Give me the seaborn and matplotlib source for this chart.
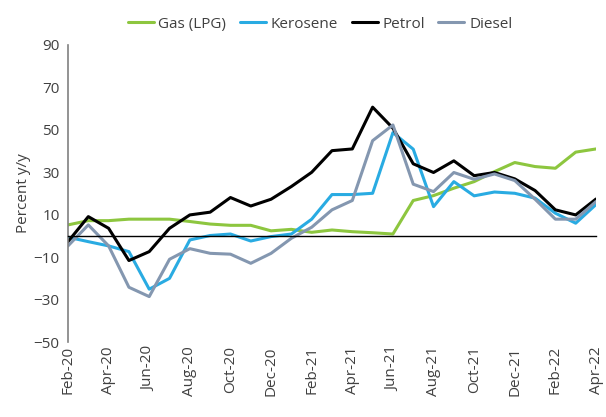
import matplotlib
matplotlib.use("Agg")
import matplotlib.pyplot as plt
import seaborn as sns
import pandas as pd
import numpy as np

months = ["Feb-20","Mar-20","Apr-20","May-20","Jun-20","Jul-20","Aug-20","Sep-20","Oct-20","Nov-20",
          "Dec-20","Jan-21","Feb-21","Mar-21","Apr-21","May-21","Jun-21","Jul-21","Aug-21","Sep-21",
          "Oct-21","Nov-21","Dec-21","Jan-22","Feb-22","Mar-22","Apr-22"]
gas = [5.2, 7.2, 7.2, 7.9, 7.9, 7.9, 6.8, 5.6, 5.0, 5.0, 2.4, 3.1, 1.7, 2.8, 2.0, 1.5, 0.9,
       16.7, 19.0, 22.5, 25.6, 30.3, 34.6, 32.7, 31.9, 39.5, 41.0]
kerosene = [-0.6, -2.7, -4.7, -7.4, -25.1, -20.0, -1.9, 0.2, 0.9, -2.4, -0.3, 0.9, 7.9, 19.5,
            19.5, 20.1, 48.7, 40.9, 13.8, 25.6, 18.9, 20.7, 20.1, 17.8, 10.7, 6.0, 14.8]
petrol = [-2.7, 9.1, 3.6, -11.6, -7.4, 3.6, 9.9, 11.2, 18.1, 14.1, 17.3, 23.3, 30.0, 40.2,
          41.0, 60.7, 50.8, 34.0, 29.9, 35.4, 28.4, 29.9, 26.9, 21.4, 12.3, 9.9, 17.4]
diesel = [-4.7, 5.2, -4.7, -24.2, -28.6, -11.0, -6.0, -8.2, -8.6, -12.9, -8.2, -1.1, 4.1, 12.3,
          16.7, 44.9, 52.3, 24.4, 20.9, 29.9, 26.7, 29.2, 26.1, 17.3, 7.9, 7.9, 16.2]
series_names = ["Gas (LPG)", "Kerosene", "Petrol", "Diesel"]
colors = ["#8DC63F", "#29ABE2", "#000000", "#8497B0"]
yticks = [90, 70, 50, 30, 10, -10, -30, -50]

sns.set_style("white")
plt.rcParams["font.family"] = ["Open Sans", "DejaVu Sans"]
text_color = "#404040"

df = pd.DataFrame({
    "idx": list(range(len(months))) * 4,
    "value": gas + kerosene + petrol + diesel,
    "series": sum([[n] * len(months) for n in series_names], []),
})

fig = plt.figure(figsize=(6.06, 4.17), dpi=100)
ax = fig.add_axes([68/606, 1 - 342/417, (596-68)/606, (342-45)/417])
sns.lineplot(data=df, x="idx", y="value", hue="series", hue_order=series_names,
             palette=colors, linewidth=2.2, ax=ax, legend=True, sort=False)

ax.set_ylim(-50, 90)
ax.set_xlim(0, len(months) - 1)
ax.set_yticks(yticks)
ax.tick_params(axis="y", direction="out", length=4, width=1, color="#808080",
               labelsize=11, labelcolor=text_color, pad=2)
for s in ["top", "right"]:
    ax.spines[s].set_visible(False)
ax.spines["left"].set_color("#808080")
ax.spines["left"].set_linewidth(1.2)
ax.spines["bottom"].set_position(("data", 0))
ax.spines["bottom"].set_color("#000000")
ax.spines["bottom"].set_linewidth(1.0)
tick_pos = list(range(0, len(months), 2))
ax.set_xticks(tick_pos)
ax.set_xticklabels([])
ax.tick_params(axis="x", direction="out", length=3, color="#000000")
ax.set_xlabel("")
ax.set_ylabel("Percent y/y", fontsize=11, color=text_color, labelpad=2)

sec = ax.secondary_xaxis(0.0)
sec.set_xticks(tick_pos)
sec.set_xticklabels([months[i] for i in tick_pos], rotation=90, fontsize=11, color=text_color)
sec.tick_params(length=0, pad=3)
sec.spines["bottom"].set_visible(False)

handles, labels = ax.get_legend_handles_labels()
ax.legend(handles, labels, loc="upper center", bbox_to_anchor=(0.5 + (-12)/528, 1 + 42/297),
          ncol=4, frameon=False, fontsize=11, handlelength=1.7, handletextpad=0.3,
          columnspacing=0.9, labelcolor=text_color)

fig.savefig("out.png", dpi=100)
